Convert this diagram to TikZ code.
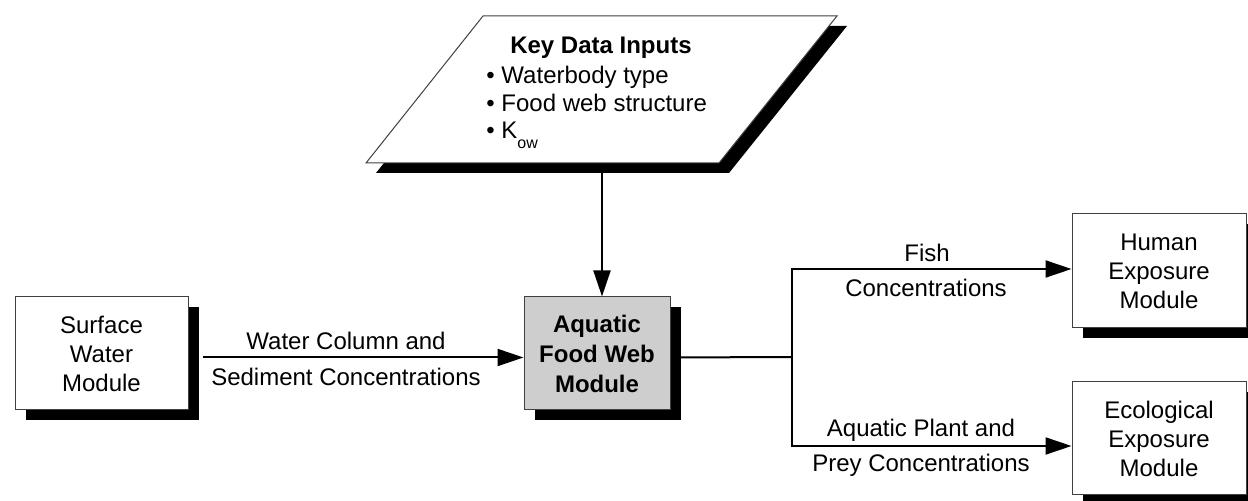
\documentclass[tikz,border=0pt]{standalone}
\usepackage{fontspec}
\setmainfont{Liberation Sans}
\usetikzlibrary{arrows.meta,shadows}
\definecolor{boxgray}{RGB}{206,206,206}
\begin{document}
\begin{tikzpicture}[x=0.5pt,y=-0.5pt,
  every node/.style={font=\fontsize{12pt}{14.5pt}\selectfont, inner sep=0pt},
  modbox/.style={draw=black!75, line width=0.5pt, fill=white, align=center,
    drop shadow={shadow xshift=5.25pt, shadow yshift=-5.25pt, fill=black, opacity=1}},
  lbl/.style={anchor=base},
  conn/.style={line width=1pt},
  arr/.style={line width=1pt, -{Triangle[length=13pt,width=8.5pt]}}]
\path[use as bounding box] (0,0) rectangle (1248,501);

% Key data inputs parallelogram
\fill[black] (493,26) -- (847,26) -- (729,173) -- (376,173) -- cycle;
\filldraw[fill=white, draw=black!75, line width=0.5pt] (483,16) -- (837,16) -- (719,163) -- (366,163) -- cycle;
\node[anchor=base, font=\fontsize{12pt}{14.5pt}\selectfont\bfseries] (kdt) at (601,53.5) {Key Data Inputs};
\node[anchor=base west] (kd1) at (486,84) {\textbullet\ Waterbody type};
\node[anchor=base west] (kd2) at (486,111.5) {\textbullet\ Food web structure};
\node[anchor=base west] (kd3) at (486,139) {\textbullet\ K\raisebox{-5pt}{\fontsize{8pt}{8pt}\selectfont ow}};
\coordinate (kdi) at (602,173);

% Modules
\node[modbox, minimum width=86.5pt, minimum height=56.5pt] (swm) at (101.5,353.5) {Surface\\Water\\Module};
\node[modbox, fill=boxgray, minimum width=73pt, minimum height=56.5pt, font=\fontsize{12pt}{15pt}\selectfont\bfseries] (afw) at (597,353.5) {Aquatic\\Food Web\\Module};
\node[modbox, minimum width=87pt, minimum height=57pt] (hem) at (1159,271) {Human\\Exposure\\Module};
\node[modbox, minimum width=87pt, minimum height=56.5pt] (eem) at (1159,438.5) {Ecological\\Exposure\\Module};

% Connectors
\draw[arr] (kdi) -- (kdi |- afw.north);
\draw[arr, shorten <=7pt] ([yshift=-2pt]swm.east) -- ([yshift=-2pt]afw.west);
\coordinate (br) at (792,357);
\draw[conn, shorten <=5pt] ([yshift=-2pt]afw.east) -- (br);
\draw[arr] (br) |- ([yshift=1pt]hem.west);
\draw[arr] (br) |- ([yshift=-3.75pt]eem.west);

% Labels
\node[lbl] (wc1) at (346,349.5) {Water Column and};
\node[lbl] (wc2) at (346,385.5) {Sediment Concentrations};
\node[lbl] (fc1) at (927,261.5) {Fish};
\node[lbl] (fc2) at (926,296.5) {Concentrations};
\node[lbl] (pc1) at (921,436.5) {Aquatic Plant and};
\node[lbl] (pc2) at (921,471.5) {Prey Concentrations};
\end{tikzpicture}
\end{document}
